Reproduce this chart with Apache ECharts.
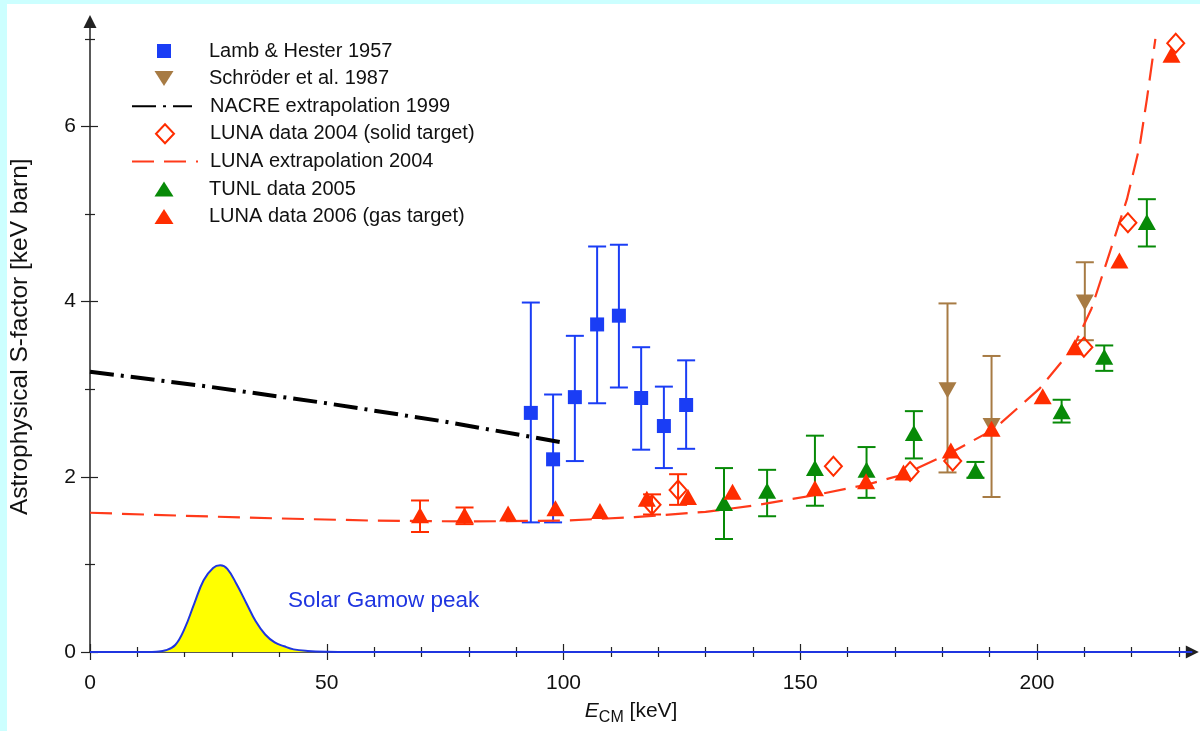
<!DOCTYPE html>
<html>
<head>
<meta charset="utf-8">
<script src="https://cdn.jsdelivr.net/npm/echarts@6/dist/echarts.min.js"></script>
<style>
html, body { margin: 0; padding: 0; background: #ccffff; }
#chart { width: 1200px; height: 731px; background: #fff; box-shadow: inset 7px 4px 0 #ccffff; }
</style>
</head>
<body>
<div id="chart"></div>
<script>
// Lamb & Hester 1957
var lambE  = [93.1, 97.8, 102.4, 107.1, 111.7, 116.4, 121.2, 125.9];
var lambS  = [2.73, 2.20, 2.91, 3.74, 3.84, 2.90, 2.58, 2.82];
var lambLo = [1.48, 1.48, 2.18, 2.84, 3.02, 2.31, 2.10, 2.32];
var lambHi = [3.99, 2.94, 3.61, 4.63, 4.65, 3.48, 3.03, 3.33];

// Schroeder et al. 1987
var schE  = [181.1, 190.4, 210.1];
var schS  = [2.99, 2.58, 3.99];
var schLo = [2.05, 1.77, 3.56];
var schHi = [3.98, 3.38, 4.45];

// NACRE extrapolation 1999
var nacreE = [0, 25, 50, 75, 100];
var nacreS = [3.20, 3.03, 2.84, 2.63, 2.39];

// LUNA data 2004 (solid target)
var luna04E  = [118.7, 124.2, 157.0, 173.2, 182.2, 209.9, 219.2, 229.3];
var luna04S  = [1.68, 1.85, 2.12, 2.06, 2.18, 3.48, 4.90, 6.95];
var luna04Lo = [1.57, 1.68, null, null, null, null, null, null];
var luna04Hi = [1.80, 2.03, null, null, null, null, null, null];

// LUNA extrapolation 2004
var lunaExtE = [0, 20, 40, 60, 80, 100, 115, 130, 140, 153, 164, 172, 181.6, 190.8, 200.6, 207.6, 211.5, 215, 219, 221.7, 223.2, 225];
var lunaExtS = [1.59, 1.555, 1.525, 1.50, 1.49, 1.50, 1.54, 1.60, 1.67, 1.79, 1.91, 2.03, 2.27, 2.54, 3.01, 3.47, 3.92, 4.50, 5.17, 5.78, 6.31, 7.0];

// TUNL data 2005
var tunlE  = [133.9, 143.0, 153.1, 164.0, 174.0, 187.0, 205.2, 214.2, 223.2];
var tunlS  = [1.70, 1.84, 2.10, 2.08, 2.50, 2.07, 2.75, 3.37, 4.91];
var tunlLo = [1.29, 1.55, 1.67, 1.76, 2.21, 1.99, 2.62, 3.21, 4.63];
var tunlHi = [2.10, 2.08, 2.47, 2.34, 2.75, 2.17, 2.88, 3.50, 5.17];

// LUNA data 2006 (gas target)
var luna06E  = [69.7, 79.1, 88.3, 98.3, 107.7, 117.6, 126.3, 135.7, 153.1, 163.9, 171.8, 181.8, 190.4, 201.2, 208.0, 217.4, 228.4];
var luna06S  = [1.56, 1.56, 1.58, 1.64, 1.61, 1.75, 1.77, 1.83, 1.87, 1.95, 2.05, 2.30, 2.55, 2.92, 3.48, 4.47, 6.82];
var luna06Lo = [1.37, 1.46, null, null, null, null, null, null, null, null, null, null, null, null, null, null, null];
var luna06Hi = [1.73, 1.65, null, null, null, null, null, null, null, null, null, null, null, null, null, null, null];

// Solar Gamow peak
var gamowE = [0, 12, 14, 16, 18, 20, 22, 24, 26, 27.5, 29, 31, 33, 35, 37, 39, 41, 43, 46, 50, 55, 232.8];
var gamowS = [0, 0, 0.004, 0.02, 0.08, 0.27, 0.55, 0.82, 0.96, 0.99, 0.95, 0.77, 0.56, 0.35, 0.20, 0.11, 0.065, 0.03, 0.012, 0.003, 0, 0];

// axis ticks
var xTicks = [0, 50, 100, 150, 200];
var xMinor = [10, 20, 30, 40, 60, 70, 80, 90, 110, 120, 130, 140, 160, 170, 180, 190, 210, 220, 230];
var yTicks = [0, 2, 4, 6];
var yMinor = [1, 3, 5, 7];

var FONT = "'Liberation Sans', Arial, Helvetica, sans-serif";
var BLUE = '#1a3df5', BROWN = '#a77b44', GREEN = '#078a07', RED = '#ff2d00', RED_LINE = '#ff3a1a';
var AXIS = '#222';

// pixel layout
var X0 = 90, Y0 = 655, PX = 4.735, PY = 88;
var X_END = 232.8, Y_END = 7.2;

function pairs(xs, ys) {
    return xs.map(function (x, i) { return [x, ys[i]]; });
}
function bars(xs, lo, hi) {
    var out = [];
    xs.forEach(function (x, i) {
        if (lo[i] != null) out.push([x, lo[i], hi[i]]);
    });
    return out;
}
function errorBars(color, data) {
    return {
        type: 'custom',
        xAxisIndex: 0, yAxisIndex: 0,
        z: 2,
        encode: { x: 0, y: [1, 2] },
        data: data,
        renderItem: function (params, api) {
            var x = api.value(0);
            var lo = api.coord([x, api.value(1)]);
            var hi = api.coord([x, api.value(2)]);
            var w = 9;
            var style = { stroke: color, lineWidth: 2, fill: null };
            return {
                type: 'group',
                children: [
                    { type: 'line', shape: { x1: lo[0], y1: lo[1], x2: hi[0], y2: hi[1] }, style: style },
                    { type: 'line', shape: { x1: lo[0] - w, y1: lo[1], x2: lo[0] + w, y2: lo[1] }, style: style },
                    { type: 'line', shape: { x1: hi[0] - w, y1: hi[1], x2: hi[0] + w, y2: hi[1] }, style: style }
                ]
            };
        }
    };
}

// extra axes that only draw ticks (crossing the axis line) and labels
function tickAxis(dim, values, len, inside, labels) {
    var ax = {
        type: 'value', gridIndex: 0, min: 0,
        max: dim === 'x' ? X_END : Y_END,
        position: dim === 'x' ? 'bottom' : 'left',
        axisLine: { show: false, onZero: false },
        axisTick: { show: true, inside: inside, length: len, customValues: values,
                    lineStyle: { color: AXIS, width: 1.2 } },
        axisLabel: { show: false },
        splitLine: { show: false }
    };
    if (labels) {
        ax.axisLabel = { show: true, customValues: values, margin: dim === 'x' ? 21 : 14,
                         padding: dim === 'x' ? 0 : [6, 0, 0, 0],
                         fontSize: 21, color: '#111', fontFamily: FONT };
    }
    return ax;
}

// legend rows: one small legend per row so every marker keeps its own size
var legendRows = [
    { name: 'Lamb & Hester 1957', w: 14, h: 14, line: false, icon: null },
    { name: 'Schröder et al. 1987', w: 19, h: 15, line: false, icon: 'path://M0,0L20,0L10,16Z' },
    { name: 'NACRE extrapolation 1999', w: 60, h: 14, line: true, icon: null },
    { name: 'LUNA data 2004 (solid target)', w: 18, h: 19, line: false, icon: null },
    { name: 'LUNA extrapolation 2004', w: 66, h: 14, line: true, icon: null },
    { name: 'TUNL data 2005', w: 19, h: 15, line: false, icon: null },
    { name: 'LUNA data 2006 (gas target)', w: 19, h: 15, line: false, icon: null }
];
var legends = legendRows.map(function (r, i) {
    var cy = 49.5 + i * 27.6;
    var left = r.line ? 131 : 164 - r.w / 2;
    var textX = left + r.w + 5;
    var item = { name: r.name };
    if (r.line) item.itemStyle = { opacity: 0 };
    if (r.icon) item.icon = r.icon;
    return {
        orient: 'vertical', left: left, top: cy - 10, padding: 0,
        itemWidth: r.w, itemHeight: r.h, symbolKeepAspect: false,
        textStyle: { fontSize: 20, color: '#111', fontFamily: FONT, lineHeight: 20,
                     padding: [3, 0, 0, 209 - textX] },
        selectedMode: false,
        data: [item]
    };
});

var chart = echarts.init(document.getElementById('chart'));
var option = {
    animation: false,
    backgroundColor: 'transparent',
    textStyle: { fontFamily: FONT },
    grid: { left: X0, bottom: 731 - Y0, right: 1200 - (X0 + X_END * PX), top: Y0 - Y_END * PY },
    legend: legends,
    xAxis: [
        {
            type: 'value', min: 0, max: X_END, position: 'bottom',
            axisLine: { onZero: false, symbol: ['none', 'triangle'], symbolSize: [13, 13], lineStyle: { color: AXIS, width: 1.5 } },
            axisTick: { show: false }, axisLabel: { show: false }, splitLine: { show: false },
            name: '{e|E}{s|CM}{k| [keV]}',
            nameLocation: 'middle', nameGap: 44,
            nameTextStyle: {
                fontSize: 21, color: '#111', fontFamily: FONT, padding: [0, 20, 0, 0],
                rich: {
                    e: { fontSize: 21, fontStyle: 'italic', color: '#111', fontFamily: FONT },
                    s: { fontSize: 16, color: '#111', fontFamily: FONT, padding: [14, 0, 0, 0] },
                    k: { fontSize: 21, color: '#111', fontFamily: FONT }
                }
            }
        },
        tickAxis('x', xTicks, 8, false, true),
        tickAxis('x', xTicks, 8, true, false),
        tickAxis('x', xMinor, 5, false, false),
        tickAxis('x', xMinor, 5, true, false)
    ],
    yAxis: [
        {
            type: 'value', min: 0, max: Y_END, position: 'left',
            axisLine: { onZero: false, symbol: ['none', 'triangle'], symbolSize: [13, 13], lineStyle: { color: AXIS, width: 1.5 } },
            axisTick: { show: false }, axisLabel: { show: false }, splitLine: { show: false },
            name: 'Astrophysical S-factor [keV barn]',
            nameLocation: 'middle', nameGap: 57,
            nameTextStyle: { fontSize: 24.5, color: '#111', fontFamily: FONT }
        },
        tickAxis('y', yTicks, 9, false, true),
        tickAxis('y', yTicks, 8, true, false),
        tickAxis('y', yMinor, 5, false, false),
        tickAxis('y', yMinor, 5, true, false)
    ],
    series: [
        {
            name: 'Gamow', type: 'line', xAxisIndex: 0, yAxisIndex: 0,
            data: pairs(gamowE, gamowS), smooth: 0.4, symbol: 'none', z: 1,
            lineStyle: { color: '#1f35e0', width: 2 },
            areaStyle: { color: '#ffff00', opacity: 1 },
            markPoint: {
                symbol: 'circle', symbolSize: 0,
                data: [{ coord: [41.8, 0.59] }],
                label: {
                    show: true, position: 'right', distance: 0,
                    formatter: 'Solar Gamow peak',
                    fontSize: 22.5, color: '#1f35e0', fontFamily: FONT
                }
            }
        },
        {
            name: 'NACRE extrapolation 1999', type: 'line', xAxisIndex: 0, yAxisIndex: 0,
            data: pairs(nacreE, nacreS), symbol: 'none', z: 3,
            lineStyle: { color: '#000', width: 4, type: [24, 7, 3, 7] },
            itemStyle: { color: '#000' }
        },
        {
            name: 'LUNA extrapolation 2004', type: 'line', xAxisIndex: 0, yAxisIndex: 0,
            data: pairs(lunaExtE, lunaExtS), symbol: 'none', z: 3,
            lineStyle: { color: RED_LINE, width: 2.2, type: [22, 10] },
            itemStyle: { color: RED_LINE }
        },
        errorBars(BLUE, bars(lambE, lambLo, lambHi)),
        errorBars(BROWN, bars(schE, schLo, schHi)),
        errorBars(RED, bars(luna04E, luna04Lo, luna04Hi)),
        errorBars(GREEN, bars(tunlE, tunlLo, tunlHi)),
        errorBars(RED, bars(luna06E, luna06Lo, luna06Hi)),
        {
            name: 'Lamb & Hester 1957', type: 'scatter', xAxisIndex: 0, yAxisIndex: 0, z: 4,
            data: pairs(lambE, lambS), symbol: 'rect', symbolSize: 14,
            itemStyle: { color: BLUE, opacity: 1 }
        },
        {
            name: 'Schröder et al. 1987', type: 'scatter', xAxisIndex: 0, yAxisIndex: 0, z: 4,
            data: pairs(schE, schS), symbol: 'triangle', symbolRotate: 180, symbolSize: [18, 16],
            itemStyle: { color: BROWN, opacity: 1 }
        },
        {
            name: 'LUNA data 2004 (solid target)', type: 'scatter', xAxisIndex: 0, yAxisIndex: 0, z: 4,
            data: pairs(luna04E, luna04S), symbol: 'diamond', symbolSize: [17, 19],
            itemStyle: { color: 'rgba(255,255,255,0)', borderColor: RED, borderWidth: 2, opacity: 1 }
        },
        {
            name: 'TUNL data 2005', type: 'scatter', xAxisIndex: 0, yAxisIndex: 0, z: 4,
            data: pairs(tunlE, tunlS), symbol: 'triangle', symbolSize: [18, 16],
            itemStyle: { color: GREEN, opacity: 1 }
        },
        {
            name: 'LUNA data 2006 (gas target)', type: 'scatter', xAxisIndex: 0, yAxisIndex: 0, z: 5,
            data: pairs(luna06E, luna06S), symbol: 'triangle', symbolSize: [18, 16],
            itemStyle: { color: RED, opacity: 1 }
        }
    ]
};
chart.setOption(option);
</script>
</body>
</html>
